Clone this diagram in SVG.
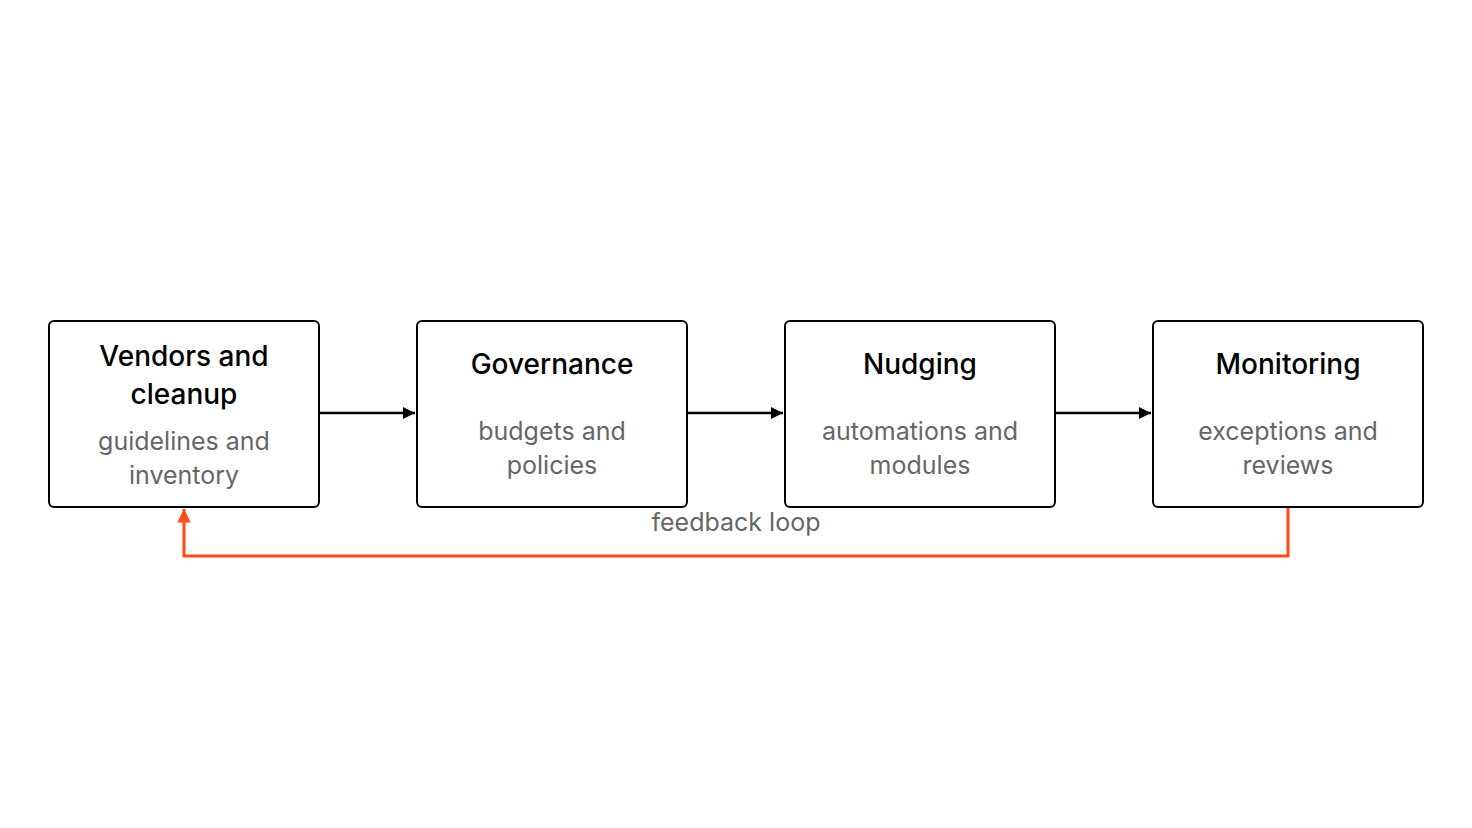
<svg xmlns="http://www.w3.org/2000/svg" width="1472" height="828" viewBox="0 0 1472 828">
<style>
.box{fill:#fff;stroke:#000;stroke-width:2}
.t{font-family:Inter,"Liberation Sans",sans-serif;font-size:28px;font-weight:500;fill:#000;text-anchor:middle}
.s{font-family:Inter,"Liberation Sans",sans-serif;font-size:25px;fill:#666;text-anchor:middle}
.c{fill:none;stroke:#000;stroke-width:2.5}
.f{fill:none;stroke:#FF4A14;stroke-width:3}
</style>
<defs>
<marker id="a" viewBox="0 0 10 10" refX="10" refY="5" markerWidth="5" markerHeight="5" orient="auto" markerUnits="strokeWidth"><path d="M0,0L10,5L0,10z" fill="#000"/></marker>
<marker id="b" viewBox="0 0 10 10" refX="10" refY="5" markerWidth="4.5" markerHeight="4.5" orient="auto" markerUnits="strokeWidth"><path d="M0,0L10,5L0,10z" fill="#FF4A14"/></marker>
</defs>
<rect width="1472" height="828" fill="#fff"/>
<g id="connectors">
<line class="c" x1="319" y1="413" x2="415" y2="413" marker-end="url(#a)"/>
<line class="c" x1="687" y1="413" x2="783" y2="413" marker-end="url(#a)"/>
<line class="c" x1="1055" y1="413" x2="1151" y2="413" marker-end="url(#a)"/>
<path class="f" d="M1288,507V556H184V509" marker-end="url(#b)"/>
<text class="s" x="736" y="531">feedback loop</text>
</g>
<g id="n1"><rect class="box" x="49" y="321" width="270" height="186" rx="5"/>
<text class="t" x="184" y="366">Vendors and</text><text class="t" x="184" y="404">cleanup</text>
<text class="s" x="184" y="450">guidelines and</text><text class="s" x="184" y="484">inventory</text></g>
<g id="n2"><rect class="box" x="417" y="321" width="270" height="186" rx="5"/>
<text class="t" x="552" y="374">Governance</text>
<text class="s" x="552" y="440">budgets and</text><text class="s" x="552" y="474">policies</text></g>
<g id="n3"><rect class="box" x="785" y="321" width="270" height="186" rx="5"/>
<text class="t" x="920" y="374">Nudging</text>
<text class="s" x="920" y="440">automations and</text><text class="s" x="920" y="474">modules</text></g>
<g id="n4"><rect class="box" x="1153" y="321" width="270" height="186" rx="5"/>
<text class="t" x="1288" y="374">Monitoring</text>
<text class="s" x="1288" y="440">exceptions and</text><text class="s" x="1288" y="474">reviews</text></g>
</svg>
